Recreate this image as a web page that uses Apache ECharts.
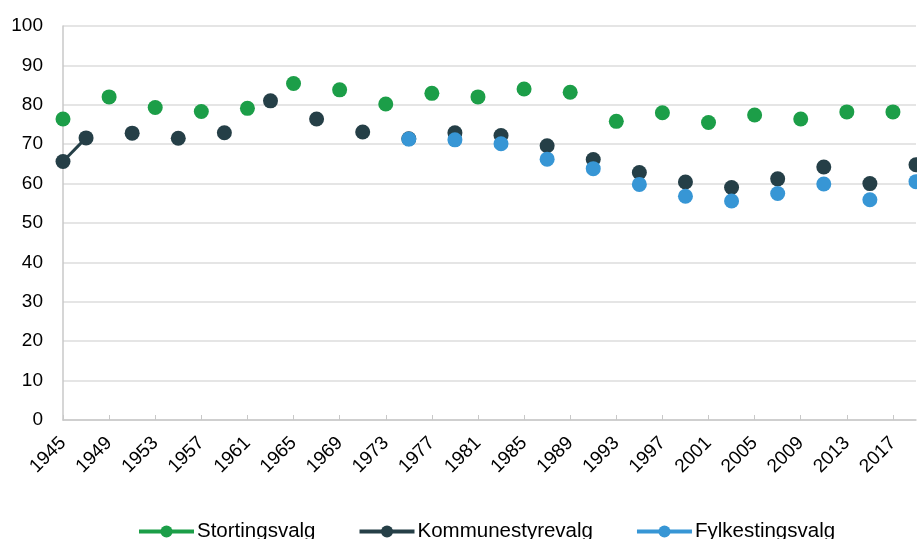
<!DOCTYPE html>
<html>
<head>
<meta charset="utf-8">
<script src="https://cdn.jsdelivr.net/npm/echarts@6/dist/echarts.min.js"></script>
<style>
  html, body { margin: 0; padding: 0; background: #fff; }
  #chart { width: 917px; height: 539px; }
</style>
</head>
<body>
<div id="chart"></div>
<script>
// valgår (annethvert år fra 1945 til 2019)
var years = [];
for (var y = 1945; y <= 2019; y += 2) years.push(String(y));

// valgdeltakelse i prosent, null = ingen valg det året
var stortingsvalg = {
    1945: 76.4, 1949: 82.0, 1953: 79.3, 1957: 78.3, 1961: 79.1, 1965: 85.4,
    1969: 83.8, 1973: 80.2, 1977: 82.9, 1981: 82.0, 1985: 84.0, 1989: 83.2,
    1993: 75.8, 1997: 78.0, 2001: 75.5, 2005: 77.4, 2009: 76.4, 2013: 78.2,
    2017: 78.2
};
var kommunestyrevalg = {
    1945: 65.6, 1947: 71.6, 1951: 72.8, 1955: 71.5, 1959: 72.9, 1963: 81.0,
    1967: 76.4, 1971: 73.1, 1975: 71.4, 1979: 72.9, 1983: 72.2, 1987: 69.6,
    1991: 66.1, 1995: 62.8, 1999: 60.4, 2003: 59.0, 2007: 61.2, 2011: 64.2,
    2015: 60.0, 2019: 64.8
};
var fylkestingsvalg = {
    1975: 71.3, 1979: 71.1, 1983: 70.1, 1987: 66.2, 1991: 63.8, 1995: 59.8,
    1999: 56.8, 2003: 55.6, 2007: 57.5, 2011: 59.9, 2015: 55.9, 2019: 60.5
};

function toSeries(obj) {
    return years.map(function (yr) {
        return obj[yr] !== undefined ? obj[yr] : null;
    });
}

var colors = ['#1c9e48', '#253f47', '#3796d5'];
var font = 'Liberation Sans, Arial, sans-serif';

function makeSeries(name, obj, color) {
    return {
        name: name,
        type: 'line',
        data: toSeries(obj),
        connectNulls: false,
        symbol: 'circle',
        symbolSize: 15,
        showAllSymbol: true,
        lineStyle: { color: color, width: 3 },
        itemStyle: { color: color },
        emphasis: { disabled: true }
    };
}

var myChart = echarts.init(document.getElementById('chart'));
myChart.setOption({
    animation: false,
    color: colors,
    grid: { left: 63, right: 1, top: 26, bottom: 119, containLabel: false },
    legend: {
        top: 521,
        left: 137,
        padding: 0,
        itemWidth: 55,
        itemHeight: 15,
        itemGap: 42,
        lineStyle: { width: 4 },
        textStyle: { fontFamily: font, fontSize: 20.5, color: '#000', padding: [0, 0, 0, -2] },
        data: ['Stortingsvalg', 'Kommunestyrevalg', 'Fylkestingsvalg']
    },
    xAxis: {
        type: 'category',
        data: years,
        boundaryGap: false,
        axisLine: { lineStyle: { color: '#c8c8c8', width: 1.5 } },
        axisTick: { inside: true, length: 5, interval: 1, lineStyle: { color: '#c8c8c8' } },
        axisLabel: {
            interval: 1,
            rotate: 45,
            margin: 20,
            fontFamily: font,
            fontSize: 19,
            color: '#000'
        },
        splitLine: { show: false }
    },
    yAxis: {
        type: 'value',
        min: 0,
        max: 100,
        interval: 10,
        axisLine: { show: true, lineStyle: { color: '#c8c8c8', width: 1.5 } },
        axisTick: { show: false },
        axisLabel: { margin: 20, fontFamily: font, fontSize: 19, color: '#000' },
        splitLine: { lineStyle: { color: '#dcdcdc', width: 1.5 } }
    },
    series: [
        makeSeries('Stortingsvalg', stortingsvalg, colors[0]),
        makeSeries('Kommunestyrevalg', kommunestyrevalg, colors[1]),
        makeSeries('Fylkestingsvalg', fylkestingsvalg, colors[2])
    ]
});
</script>
</body>
</html>
